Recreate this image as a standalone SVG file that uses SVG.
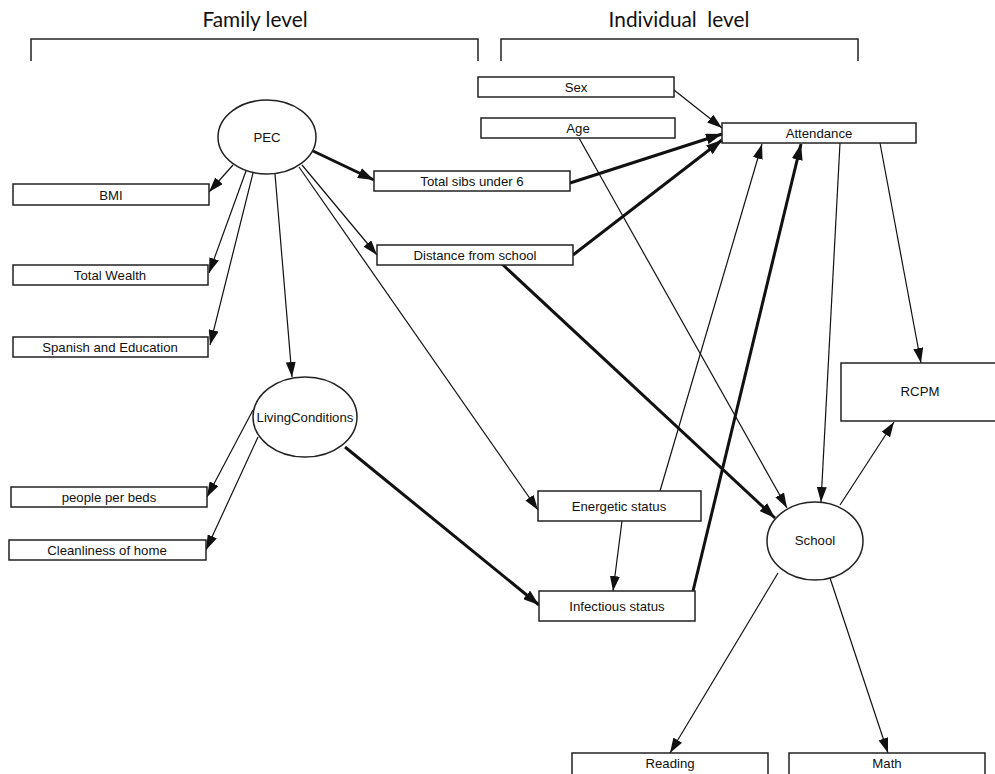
<svg xmlns="http://www.w3.org/2000/svg" width="995" height="774" viewBox="0 0 995 774">
<style>
.box{fill:#fff;stroke:#222;stroke-width:1.5}
.ell{fill:#fff;stroke:#222;stroke-width:1.5}
.lbl{font-family:"Liberation Sans",Arial,sans-serif;font-size:13.2px;fill:#111;text-anchor:middle}
.title{font-family:Lato,"Liberation Sans",sans-serif;font-size:20.8px;fill:#111;text-anchor:middle}
.br{fill:none;stroke:#222;stroke-width:1.5}
.thin{stroke:#111;stroke-width:1.2;fill:none;marker-end:url(#ah)}
.thick{stroke:#111;stroke-width:3;fill:none;marker-end:url(#ahb)}
</style>
<defs>
<marker id="ah" markerUnits="userSpaceOnUse" markerWidth="15" markerHeight="10" refX="15" refY="5" orient="auto"><path d="M0,0 L15,5 L0,10 z" fill="#111"/></marker>
<marker id="ahb" markerUnits="userSpaceOnUse" markerWidth="16" markerHeight="11" refX="16" refY="5.5" orient="auto"><path d="M0,0 L16,5.5 L0,11 z" fill="#111"/></marker>
</defs>
<rect width="995" height="774" fill="#fff"/>
<g id="headers">
<text class="title" x="255" y="27">Family level</text>
<path class="br" d="M31,61 V39 H478 V61"/>
<text class="title" x="679" y="27">Individual&#160; level</text>
<path class="br" d="M501,61 V39 H858 V61"/>
</g>
<g id="connectors">
<line class="thin" x1="674" y1="90" x2="722" y2="128"/>
<line class="thin" x1="233" y1="165" x2="209" y2="192"/>
<line class="thin" x1="246" y1="171" x2="209" y2="273"/>
<line class="thin" x1="253" y1="173" x2="210" y2="345"/>
<line class="thin" x1="275" y1="174" x2="292" y2="377"/>
<line class="thick" x1="313" y1="151" x2="374" y2="180"/>
<line class="thin" x1="302" y1="165" x2="377" y2="255"/>
<line class="thin" x1="299" y1="167" x2="538" y2="510"/>
<line class="thick" x1="570" y1="183" x2="722" y2="134"/>
<line class="thick" x1="573" y1="255" x2="722" y2="140"/>
<line class="thick" x1="502" y1="264" x2="775" y2="518"/>
<line class="thin" x1="579" y1="138" x2="787" y2="508"/>
<line class="thin" x1="660" y1="491" x2="762" y2="144"/>
<line class="thick" x1="693" y1="591" x2="801" y2="144"/>
<line class="thin" x1="840" y1="143" x2="821" y2="502"/>
<line class="thin" x1="880" y1="143" x2="921" y2="363"/>
<line class="thin" x1="253" y1="410" x2="207" y2="497"/>
<line class="thin" x1="258" y1="437" x2="206" y2="550"/>
<line class="thick" x1="345" y1="447" x2="539" y2="605"/>
<line class="thin" x1="622" y1="521" x2="613" y2="591"/>
<line class="thin" x1="840" y1="505" x2="894" y2="422"/>
<line class="thin" x1="778" y1="573" x2="670" y2="753"/>
<line class="thin" x1="830" y1="578" x2="888" y2="753"/>
</g>
<g id="n-sex"><rect class="box" x="478" y="77" width="196" height="20"/><text class="lbl" x="576" y="92">Sex</text></g>
<g id="n-age"><rect class="box" x="481" y="118" width="194" height="20"/><text class="lbl" x="578" y="133">Age</text></g>
<g id="n-attendance"><rect class="box" x="722" y="123" width="194" height="20"/><text class="lbl" x="819" y="138">Attendance</text></g>
<g id="n-pec"><ellipse class="ell" cx="267" cy="137" rx="49" ry="37"/><text class="lbl" x="267" y="142">PEC</text></g>
<g id="n-bmi"><rect class="box" x="13" y="184" width="196" height="21"/><text class="lbl" x="111" y="199.5">BMI</text></g>
<g id="n-wealth"><rect class="box" x="13" y="265" width="195" height="20"/><text class="lbl" x="110" y="280">Total Wealth</text></g>
<g id="n-spanish"><rect class="box" x="13" y="337" width="195" height="20"/><text class="lbl" x="110" y="352">Spanish and Education</text></g>
<g id="n-sibs"><rect class="box" x="374" y="171" width="196" height="20"/><text class="lbl" x="472" y="186">Total sibs under 6</text></g>
<g id="n-distance"><rect class="box" x="377" y="245" width="196" height="20"/><text class="lbl" x="475" y="260">Distance from school</text></g>
<g id="n-living"><ellipse class="ell" cx="305" cy="417" rx="52" ry="40"/><text class="lbl" x="305" y="422">LivingConditions</text></g>
<g id="n-people"><rect class="box" x="11" y="487" width="196" height="20"/><text class="lbl" x="109" y="502">people per beds</text></g>
<g id="n-clean"><rect class="box" x="9" y="540" width="197" height="20"/><text class="lbl" x="107" y="555">Cleanliness of home</text></g>
<g id="n-energetic"><rect class="box" x="538" y="491" width="163" height="30"/><text class="lbl" x="619" y="511">Energetic status</text></g>
<g id="n-infectious"><rect class="box" x="539" y="591" width="156" height="30"/><text class="lbl" x="617" y="611">Infectious status</text></g>
<g id="n-rcpm"><rect class="box" x="841" y="363" width="160" height="58"/><text class="lbl" x="920" y="396">RCPM</text></g>
<g id="n-school"><ellipse class="ell" cx="815" cy="541" rx="48" ry="39"/><text class="lbl" x="815" y="545">School</text></g>
<g id="n-reading"><rect class="box" x="572" y="753" width="196" height="24"/><text class="lbl" x="670" y="768">Reading</text></g>
<g id="n-math"><rect class="box" x="789" y="753" width="196" height="24"/><text class="lbl" x="887" y="768">Math</text></g>
</svg>
